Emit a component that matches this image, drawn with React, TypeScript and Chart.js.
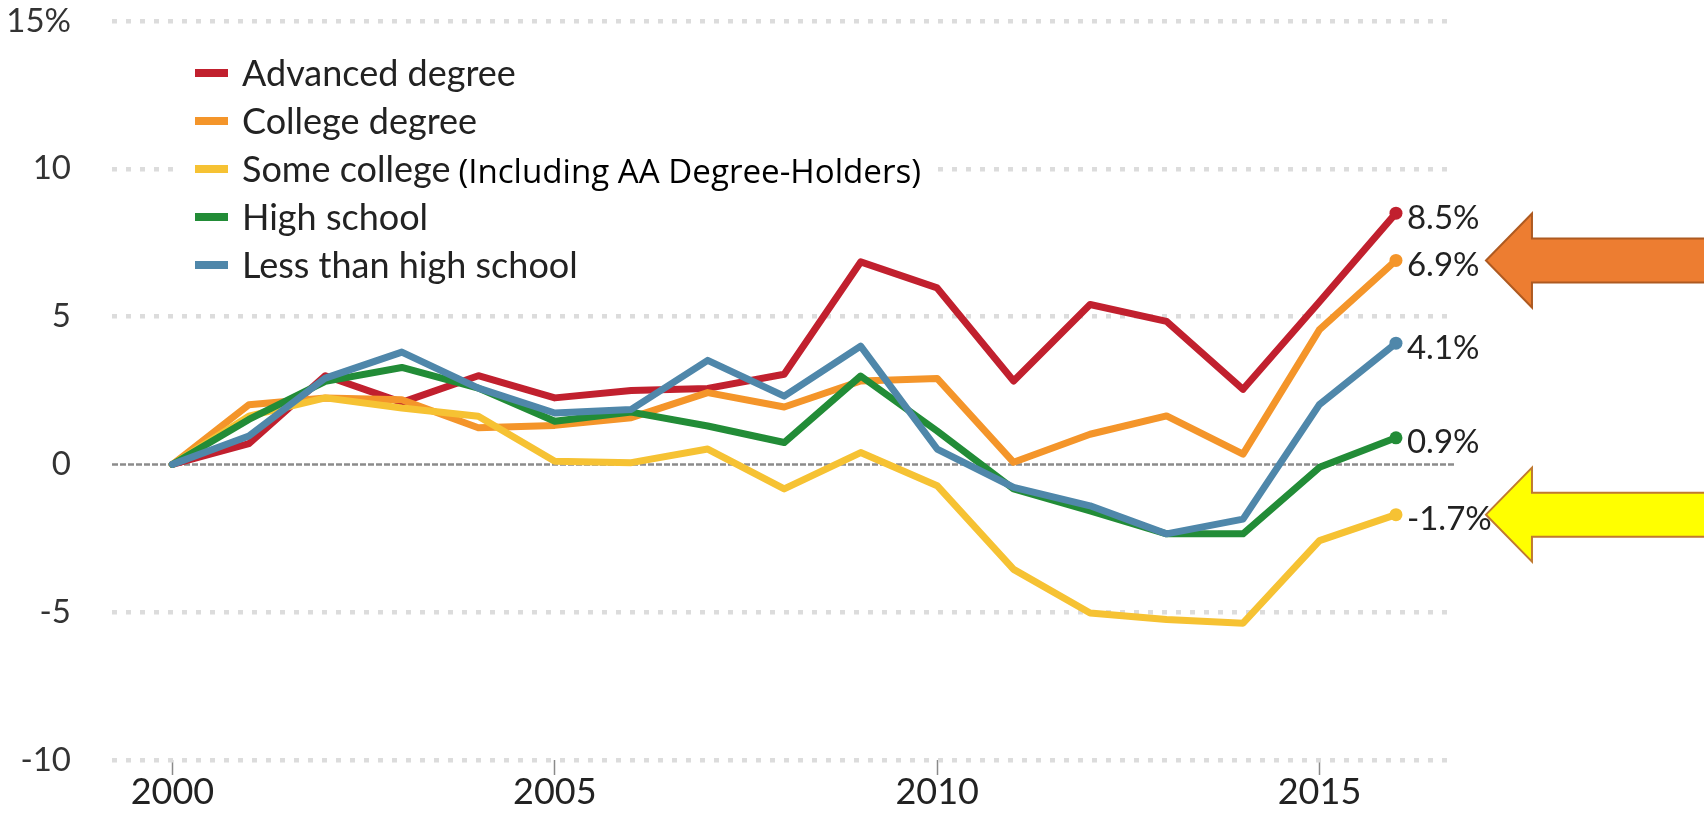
import React, { useEffect, useRef } from 'react';
import { Chart, registerables } from 'chart.js';

Chart.register(...registerables);

const years = [2000, 2001, 2002, 2003, 2004, 2005, 2006, 2007, 2008, 2009, 2010, 2011, 2012, 2013, 2014, 2015, 2016];

const seriesNames = ['Advanced degree', 'College degree', 'Some college', 'High school', 'Less than high school'];

const advancedDegree = [0, 0.7, 3.0, 2.1, 3.0, 2.25, 2.5, 2.57, 3.05, 6.85, 5.97, 2.82, 5.41, 4.84, 2.54, 5.5, 8.5];
const collegeDegree = [0, 2.02, 2.25, 2.19, 1.24, 1.32, 1.58, 2.43, 1.94, 2.82, 2.91, 0.07, 1.02, 1.64, 0.35, 4.56, 6.9];
const someCollege = [0, 1.63, 2.25, 1.91, 1.63, 0.11, 0.06, 0.52, -0.83, 0.4, -0.72, -3.55, -5.03, -5.25, -5.37, -2.58, -1.7];
const highSchool = [0, 1.52, 2.81, 3.28, 2.58, 1.46, 1.77, 1.3, 0.74, 2.99, 1.13, -0.83, -1.57, -2.35, -2.35, -0.1, 0.9];
const lessThanHighSchool = [0, 0.96, 2.92, 3.8, 2.58, 1.74, 1.86, 3.52, 2.31, 4.0, 0.52, -0.78, -1.4, -2.35, -1.85, 2.03, 4.1];

const seriesValues = [advancedDegree, collegeDegree, someCollege, highSchool, lessThanHighSchool];
const seriesColors = ['#c1202e', '#f4952a', '#f6c233', '#228c37', '#4f87aa'];
const endLabels = ['8.5%', '6.9%', '-1.7%', '0.9%', '4.1%'];

const xTickValues = [2000, 2005, 2010, 2015];
const yTickValues = [-10, -5, 0, 5, 10, 15];
const yTickLabels = ['-10', '-5', '0', '5', '10', '15%'];

const legendNote = '(Including AA Degree-Holders)';
const noteSeriesIndex = 2;

// arrows point at the end labels of these series
const arrowSeries = [1, 2];
const arrowFills = ['#ed7d31', '#ffff00'];
const arrowStrokes = ['#ae5a21', '#c07a30'];

const FONT = 'Lato, "Open Sans", sans-serif';
const NOTE_FONT = '"Open Sans", sans-serif';

const overlayPlugin = {
  id: 'overlay',
  beforeDatasetsDraw(chart: any) {
    const { ctx, chartArea } = chart;
    const y0 = chart.scales.y.getPixelForValue(0);
    ctx.save();
    ctx.strokeStyle = '#8c8c8c';
    ctx.lineWidth = 2.5;
    ctx.setLineDash([6, 2]);
    ctx.beginPath();
    ctx.moveTo(chartArea.left, y0);
    ctx.lineTo(chartArea.right, y0);
    ctx.stroke();
    ctx.restore();
  },
  afterDatasetsDraw(chart: any) {
    const { ctx } = chart;
    ctx.save();
    ctx.font = `33px ${FONT}`;
    ctx.fillStyle = '#222';
    ctx.textAlign = 'left';
    ctx.textBaseline = 'middle';
    seriesValues.forEach((_, i) => {
      const meta = chart.getDatasetMeta(i);
      const pt = meta.data[meta.data.length - 1];
      ctx.fillText(endLabels[i], pt.x + 11, pt.y + 5);
    });
    // arrows
    const W = chart.width;
    arrowSeries.forEach((si, k) => {
      const meta = chart.getDatasetMeta(si);
      const pt = meta.data[meta.data.length - 1];
      const tx = pt.x + 90;
      const ty = pt.y;
      ctx.beginPath();
      ctx.moveTo(tx, ty);
      ctx.lineTo(tx + 46, ty - 47);
      ctx.lineTo(tx + 46, ty - 22);
      ctx.lineTo(W + 5, ty - 22);
      ctx.lineTo(W + 5, ty + 22);
      ctx.lineTo(tx + 46, ty + 22);
      ctx.lineTo(tx + 46, ty + 47);
      ctx.closePath();
      ctx.fillStyle = arrowFills[k];
      ctx.fill();
      ctx.strokeStyle = arrowStrokes[k];
      ctx.lineWidth = 2;
      ctx.lineJoin = 'miter';
      ctx.stroke();
    });
    ctx.restore();
  },
  afterDraw(chart: any) {
    const { ctx } = chart;
    const legendTop = 73;
    const rowGap = 48;
    const textX = 242;
    ctx.save();
    seriesNames.forEach((name, i) => {
      const y = legendTop + i * rowGap;
      ctx.font = `36px ${FONT}`;
      const tw = ctx.measureText(name).width;
      let endX = textX + tw;
      let noteFont = '';
      let noteX = 0;
      if (i === noteSeriesIndex) {
        noteX = endX + 8;
        const targetW = 921 - noteX;
        ctx.font = `32px ${NOTE_FONT}`;
        const w32 = ctx.measureText(legendNote).width;
        const size = (32 * targetW) / w32;
        noteFont = `${size.toFixed(2)}px ${NOTE_FONT}`;
        endX = noteX + targetW;
      }
      ctx.fillStyle = '#ffffff';
      ctx.fillRect(182, y - 22, endX - 182 + 8, 44);
      ctx.fillStyle = seriesColors[i];
      ctx.fillRect(195, y - 4, 33, 8);
      ctx.fillStyle = '#222';
      ctx.textAlign = 'left';
      ctx.textBaseline = 'alphabetic';
      ctx.font = `36px ${FONT}`;
      ctx.fillText(name, textX, y + 13);
      if (noteFont) {
        ctx.fillStyle = '#000';
        ctx.font = noteFont;
        ctx.fillText(legendNote, noteX, y + 14);
      }
    });
    ctx.restore();
  },
};

export default function App() {
  const ref = useRef<HTMLCanvasElement>(null);
  useEffect(() => {
    const canvas = ref.current;
    if (!canvas) return;
    const lastIndex = years.length - 1;
    const chart = new Chart(canvas, {
      type: 'line',
      data: {
        datasets: seriesNames.map((name, i) => ({
          label: name,
          data: years.map((yr, j) => ({ x: yr, y: seriesValues[i][j] })),
          borderColor: seriesColors[i],
          backgroundColor: seriesColors[i],
          borderWidth: 7,
          borderJoinStyle: 'round',
          borderCapStyle: 'round',
          tension: 0,
          fill: false,
          order: 5 - i,
          pointRadius: (c: any) => (c.dataIndex === lastIndex ? 6.5 : 0),
          pointHoverRadius: 0,
          pointBorderWidth: 0,
          pointBackgroundColor: seriesColors[i],
        })),
      },
      options: {
        animation: false,
        responsive: false,
        devicePixelRatio: 1,
        events: [],
        layout: { padding: { top: 21, right: 248, bottom: 0, left: 0 } },
        plugins: { legend: { display: false }, tooltip: { enabled: false } },
        scales: {
          x: {
            type: 'linear',
            min: 1999.21,
            max: 2016.785,
            afterBuildTicks: (s: any) => {
              s.ticks = xTickValues.map((v) => ({ value: v }));
            },
            afterFit: (s: any) => {
              s.height = 53;
              s.paddingLeft = 0;
              s.paddingRight = 0;
            },
            grid: {
              drawOnChartArea: false,
              drawTicks: true,
              tickLength: 15,
              color: '#8a8a8a',
              tickColor: '#8a8a8a',
              tickWidth: 1.5,
            },
            border: { display: false },
            ticks: {
              padding: -4,
              color: '#222',
              font: { family: FONT, size: 36 },
              maxRotation: 0,
              autoSkip: false,
              callback: (v: any) => String(v),
            },
          },
          y: {
            type: 'linear',
            min: -10,
            max: 15,
            afterBuildTicks: (s: any) => {
              s.ticks = yTickValues.map((v) => ({ value: v }));
            },
            afterFit: (s: any) => {
              s.width = 112;
              s.paddingTop = 0;
              s.paddingBottom = 0;
            },
            grid: {
              drawTicks: false,
              lineWidth: 4.5,
              color: (c: any) => (c.tick && c.tick.value === 0 ? 'rgba(0,0,0,0)' : '#dcdcdc'),
            },
            border: { display: false, dash: [5, 9] },
            ticks: {
              padding: 41,
              color: '#333',
              font: { family: FONT, size: 33 },
              callback: (v: any) => {
                const idx = yTickValues.indexOf(Number(v));
                return idx >= 0 ? yTickLabels[idx] : '';
              },
            },
          },
        },
      },
      plugins: [overlayPlugin],
    } as any);
    return () => chart.destroy();
  }, []);

  return (
    <div style={{ position: 'fixed', left: 0, top: 0, width: 1704, height: 813, background: '#ffffff' }}>
      <canvas ref={ref} width={1704} height={813} style={{ display: 'block', width: 1704, height: 813 }} />
    </div>
  );
}
